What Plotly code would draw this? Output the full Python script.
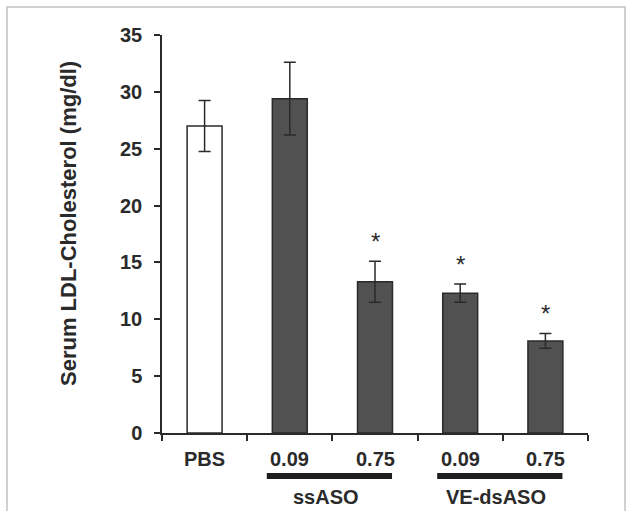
import plotly.graph_objects as go

# ---- data ----
categories = ["PBS", "0.09", "0.75", "0.09", "0.75"]
values = [27.0, 29.4, 13.3, 12.3, 8.1]
errors = [2.25, 3.2, 1.8, 0.8, 0.65]
significant = [False, False, True, True, True]
groups = ["ssASO", "VE-dsASO"]
group_members = [[1, 2], [3, 4]]
y_ticks = [0, 5, 10, 15, 20, 25, 30, 35]
y_title = "Serum LDL-Cholesterol (mg/dl)"

# ---- layout constants ----
L, R, T, B = 162, 39, 35, 78
W, H = 627, 511
pw, ph = W - L - R, H - T - B
FONT = "Liberation Sans, Arial, sans-serif"
DARK = "#2a2a2a"
FS = 20

def px_to_paper_x(px):
    return (px - L) / pw

def px_to_paper_y(py):
    return (H - B - py) / ph

n = len(categories)
xs = list(range(n))
fills = ["#ffffff"] + ["#515151"] * (n - 1)

fig = go.Figure()
fig.add_trace(go.Bar(
    x=xs, y=values, width=0.41,
    marker=dict(color=fills, line=dict(color=DARK, width=1.5)),
    error_y=dict(type="data", array=errors, visible=True, color=DARK,
                 thickness=1.5, width=6),
    showlegend=False, hoverinfo="skip",
))

annotations = []
# category labels
for i, c in enumerate(categories):
    annotations.append(dict(x=i, y=px_to_paper_y(459), xref="x", yref="paper",
                            text="<b>%s</b>" % c, showarrow=False,
                            font=dict(family=FONT, size=FS, color=DARK),
                            yanchor="middle"))
# stars
for i, (v, e, s) in enumerate(zip(values, errors, significant)):
    if s:
        annotations.append(dict(x=i, y=v + e + 1.75, xref="x", yref="y",
                                text="*", showarrow=False, yanchor="middle",
                                font=dict(family=FONT, size=24, color=DARK)))
shapes = []
# group bars and labels
for g, members in zip(groups, group_members):
    x0 = members[0] - 0.27
    x1 = members[-1] + 0.2
    shapes.append(dict(type="rect", xref="x", yref="paper", x0=x0, x1=x1,
                       y0=px_to_paper_y(479), y1=px_to_paper_y(473),
                       fillcolor="#1e1e1e", line=dict(width=0)))
    annotations.append(dict(x=(x0 + x1) / 2 - 0.04, y=px_to_paper_y(497),
                            xref="x", yref="paper", text="<b>%s</b>" % g,
                            showarrow=False, yanchor="middle",
                            font=dict(family=FONT, size=FS, color=DARK)))
# y-axis title
annotations.append(dict(x=px_to_paper_x(68), y=px_to_paper_y(224), xref="paper",
                        yref="paper", text="<b>%s</b>" % y_title, textangle=-90,
                        showarrow=False, xanchor="center", yanchor="middle",
                        font=dict(family=FONT, size=22, color=DARK)))
# outer frame
shapes.append(dict(type="rect", xref="paper", yref="paper",
                   x0=px_to_paper_x(7), x1=px_to_paper_x(625),
                   y0=px_to_paper_y(530), y1=px_to_paper_y(7),
                   line=dict(color="#d0d0d0", width=2), layer="below"))

fig.update_layout(
    width=W, height=H,
    margin=dict(l=L, r=R, t=T, b=B, pad=0),
    paper_bgcolor="white", plot_bgcolor="white",
    font=dict(family=FONT, color=DARK),
    xaxis=dict(range=[-0.5, n - 0.5], tickmode="array",
               tickvals=[i - 0.5 for i in range(n + 1)],
               ticktext=[""] * (n + 1), ticks="outside", ticklen=6,
               tickwidth=1.5, tickcolor=DARK, showline=True, linecolor=DARK,
               linewidth=1.5, showgrid=False, zeroline=False, fixedrange=True),
    yaxis=dict(range=[0, 35], tickmode="array", tickvals=y_ticks,
               ticktext=["<b>%d</b>" % t for t in y_ticks],
               ticks="outside", ticklen=6, tickwidth=1.5, tickcolor=DARK,
               showline=True, linecolor=DARK, linewidth=1.5, showgrid=False,
               zeroline=False, tickfont=dict(family=FONT, size=FS, color=DARK),
               ticklabelstandoff=8),
    annotations=annotations, shapes=shapes,
)

fig.write_html(
    "out.html",
    config={"displayModeBar": False},
    post_script="document.body.style.margin='0';"
                "document.documentElement.style.overflow='hidden';",
)
